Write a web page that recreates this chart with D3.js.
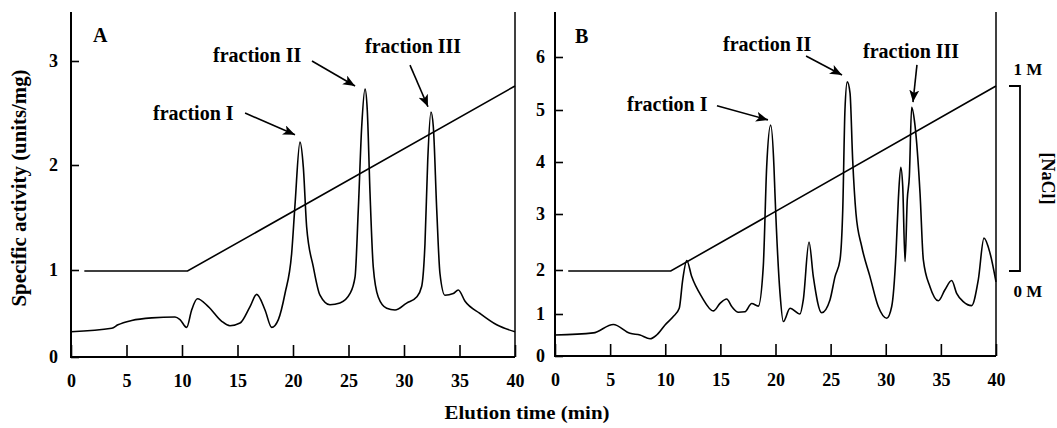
<!DOCTYPE html>
<html><head><meta charset="utf-8">
<script src="https://cdn.jsdelivr.net/npm/d3@7"></script>
<style>
body{margin:0;background:#fff}
svg{display:block}
text{font-family:"Liberation Serif","Times New Roman",serif;font-weight:bold;fill:#000}
</style>
</head><body>
<svg id="chart" width="1057" height="428"></svg>
<script>
// ---------- data ----------
const xTicks = [0,5,10,15,20,25,30,35,40];
const yTicksA = [0,1,2,3];
const yTicksB = [0,1,2,3,4,5,6];

const timeA = [0,3.67,4.23,5.47,7.27,9.37,9.82,10.42,10.87,11.38,12.37,13.58,14.32,15.23,16.13,16.73,17.48,18.08,18.68,19.28,19.88,20.18,20.63,20.93,21.23,21.83,22.43,23.33,24.23,25.14,25.59,25.88,26.19,26.49,26.69,26.94,27.23,27.68,28.44,29.19,30.24,31.14,31.59,31.89,32.14,32.43,32.64,32.95,33.24,33.69,34.44,34.89,35.5,36.85,38.35,40];
const activityA = [0.29,0.33,0.37,0.42,0.45,0.46,0.43,0.34,0.54,0.67,0.58,0.41,0.36,0.39,0.58,0.72,0.54,0.34,0.43,0.73,1.16,1.62,2.22,1.98,1.41,1.03,0.71,0.60,0.62,0.73,0.92,1.57,2.37,2.73,2.53,1.73,1.03,0.69,0.56,0.54,0.62,0.69,0.81,1.25,2.05,2.51,2.37,1.57,0.96,0.71,0.73,0.77,0.64,0.50,0.37,0.29];

const timeB = [0,3.47,5.29,6.80,7.71,8.62,9.22,9.98,10.73,11.27,11.58,11.95,12.40,13.31,14.36,14.97,15.57,16.03,16.63,17.23,17.84,18.44,18.89,19.20,19.56,19.86,19.95,20.41,20.71,21.32,22.22,22.52,23.04,23.43,24.19,24.94,25.40,25.85,26.10,26.30,26.51,26.76,27.00,27.30,27.82,28.57,29.32,30.09,30.54,30.93,31.14,31.36,31.54,31.75,31.95,32.14,32.35,32.65,33.11,33.41,34.01,34.77,35.37,35.98,36.43,37.03,37.79,38.39,38.91,39.46,40];
const activityB = [0.50,0.55,0.75,0.54,0.50,0.41,0.50,0.74,0.94,1.13,1.77,2.17,1.85,1.39,1.07,1.24,1.34,1.17,1.04,1.05,1.24,1.18,2.06,3.91,4.71,3.91,3.40,1.47,0.82,1.13,1.00,1.32,2.50,1.85,1.03,1.32,1.85,2.18,3.08,5.00,5.53,5.32,4.04,3.01,2.42,1.85,1.17,0.90,1.17,2.30,3.27,3.90,3.53,2.15,3.27,3.72,5.05,4.71,3.40,2.18,1.62,1.30,1.55,1.76,1.47,1.28,1.19,1.77,2.57,2.30,1.73];

// NaCl gradient (M)
const naclTime = [1.2,10.5,40];
const naclConc = [0,0,1];
const naclTicks = [0,1];
const naclTickLabels = ["0 M","1 M"];

// annotations (data coordinates)
const fractionNames = ["fraction I","fraction II","fraction III"];
const labelXA = [7.39,12.79,26.49], labelYA = [2.43,2.99,3.08];
const arrowFromA = [[15.68,2.50],[21.71,3.00],[30.54,2.96]];
const arrowToA   = [[20.18,2.29],[25.59,2.76],[32.16,2.56]];
const labelXB = [6.53,15.24,27.94], labelYB = [4.98,6.11,5.98];
const arrowFromB = [[14.69,5.08],[22.77,6.02],[32.83,5.85]];
const arrowToB   = [[19.32,4.81],[26.03,5.66],[32.47,5.15]];
const panelLetters = ["A","B"];
const letterPosA = [1.98,3.18], letterPosB = [1.81,6.26];

// ---------- layout ----------
const svg = d3.select("#chart");
const TOP = 12;
const defs = svg.append("defs");
defs.append("marker").attr("id","arrow")
  .attr("markerUnits","userSpaceOnUse")
  .attr("markerWidth",13).attr("markerHeight",11)
  .attr("refX",12).attr("refY",5).attr("orient","auto")
  .append("path").attr("d","M0,0 L12,5 L0,10 L3,5 Z").attr("fill","#000");

const naclY = d3.scaleLinear().domain([0,1]).range([271,86]);

function drawPanel(p){
  const x = d3.scaleLinear().domain([0,40]).range(p.xRange);
  const y = d3.scaleLinear().domain(p.yTicks).range(p.yRange);
  const g = svg.append("g");
  const bottom = p.yRange[0];

  // x axis ticks & labels
  const xa = g.append("g").attr("transform",`translate(0,${bottom})`)
    .call(d3.axisBottom(x).tickValues(xTicks).tickFormat(d3.format("d"))
      .tickSizeInner(-12).tickSizeOuter(0).tickPadding(17));
  xa.select(".domain").remove();
  xa.selectAll("line").attr("stroke","#000").attr("stroke-width",1.6);
  xa.selectAll("text").style("font-size","18px").attr("fill","#000");

  // y axis ticks & labels
  const ya = g.append("g").attr("transform",`translate(${p.xRange[0]},0)`)
    .call(d3.axisLeft(y).tickValues(p.yTicks).tickFormat(d3.format("d"))
      .tickSizeInner(-8).tickSizeOuter(0).tickPadding(p.yPad));
  ya.select(".domain").remove();
  ya.selectAll("line").attr("stroke","#000").attr("stroke-width",1.6);
  ya.selectAll("text").style("font-size","18px").attr("fill","#000");

  // frame
  g.append("path").attr("fill","none").attr("stroke","#000").attr("stroke-width",2)
    .attr("d",`M${x(0)},${TOP}V${bottom}H${x(40)}`);
  g.append("path").attr("fill","none").attr("stroke","#000").attr("stroke-width",1.5)
    .attr("d",`M${x(40)},${TOP}V${bottom}`);

  // NaCl gradient
  const nacl = naclTime.map((t,i)=>[t,naclConc[i]]);
  g.append("path").datum(nacl).attr("fill","none").attr("stroke","#000").attr("stroke-width",1.6)
    .attr("d",d3.line().x(d=>x(d[0])).y(d=>naclY(d[1])));

  // activity curve
  const pts = p.time.map((t,i)=>[t,p.activity[i]]);
  g.append("path").datum(pts).attr("fill","none").attr("stroke","#000").attr("stroke-width",1.6)
    .attr("stroke-linejoin","round")
    .attr("d",d3.line().x(d=>x(d[0])).y(d=>y(d[1])).curve(d3.curveMonotoneX));

  // annotations
  fractionNames.forEach((name,i)=>{
    g.append("text").attr("x",x(p.labelX[i])).attr("y",y(p.labelY[i]))
      .style("font-size","20px").text(name);
    g.append("line")
      .attr("x1",x(p.arrowFrom[i][0])).attr("y1",y(p.arrowFrom[i][1]))
      .attr("x2",x(p.arrowTo[i][0])).attr("y2",y(p.arrowTo[i][1]))
      .attr("stroke","#000").attr("stroke-width",1.6).attr("marker-end","url(#arrow)");
  });
  g.append("text").attr("x",x(p.letterPos[0])).attr("y",y(p.letterPos[1]))
    .style("font-size","20px").text(p.letter);
  return x;
}

drawPanel({xRange:[71,515], yTicks:yTicksA, yRange:[357,270,165,61], yPad:13,
  time:timeA, activity:activityA, labelX:labelXA, labelY:labelYA,
  arrowFrom:arrowFromA, arrowTo:arrowToA, letter:panelLetters[0], letterPos:letterPosA});
drawPanel({xRange:[555,996], yTicks:yTicksB, yRange:[356,314,270,214,162,110,57], yPad:10,
  time:timeB, activity:activityB, labelX:labelXB, labelY:labelYB,
  arrowFrom:arrowFromB, arrowTo:arrowToB, letter:panelLetters[1], letterPos:letterPosB});

// NaCl bracket axis
const bx = 1020;
svg.append("path").attr("fill","none").attr("stroke","#000").attr("stroke-width",1.8)
  .attr("d",`M${bx-11},${naclY(1)}H${bx}V${naclY(0)}H${bx-11}`);
naclTicks.forEach((v,i)=>{
  svg.append("text").attr("x",1028).attr("y",naclY(v)+(v===1?-11:26))
    .attr("text-anchor","middle").style("font-size","17px").text(naclTickLabels[i]);
});
svg.append("text").attr("transform",`translate(1042,${(naclY(0)+naclY(1))/2}) rotate(90)`)
  .attr("text-anchor","middle").style("font-size","18px").style("font-weight","bold")
  .text("[NaCl]");

// axis titles
svg.append("text").attr("transform","translate(26,188) rotate(-90)")
  .attr("text-anchor","middle").style("font-size","20px")
  .attr("textLength",237).attr("lengthAdjust","spacingAndGlyphs")
  .text("Specific activity (units/mg)");
svg.append("text").attr("x",527).attr("y",419).attr("text-anchor","middle")
  .style("font-size","19px").attr("textLength",165).attr("lengthAdjust","spacingAndGlyphs")
  .text("Elution time (min)");
</script>
</body></html>
